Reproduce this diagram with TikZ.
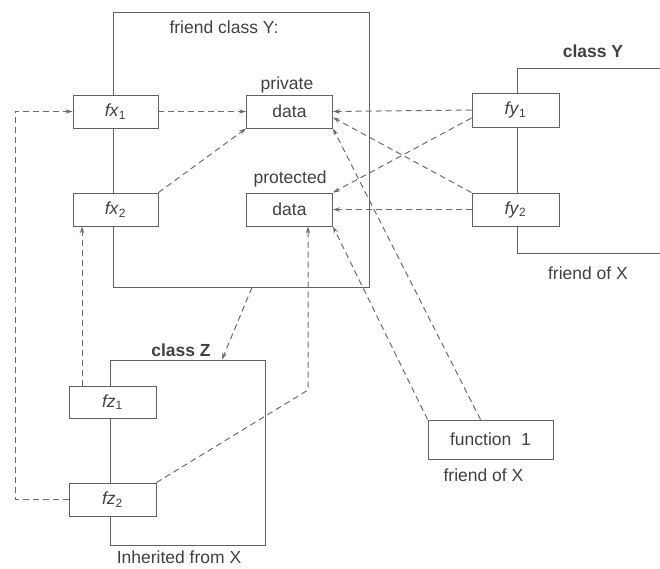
\documentclass[tikz,border=0pt]{standalone}
\usepackage{fontspec}
\setmainfont{Liberation Sans}
\usetikzlibrary{arrows.meta,calc}
\newcommand{\sbs}[1]{\textsubscript{\fontsize{12}{14}\selectfont #1}}
\begin{document}
\begin{tikzpicture}[x=1pt,y=-1pt,
  line/.style={draw=black!62, line width=0.9pt},
  fbox/.style={line, fill=white, rectangle, minimum width=86pt, minimum height=33pt, inner sep=0pt, text=black!75, font=\fontsize{17.5}{20}\selectfont},
  lbl/.style={text=black!75, font=\fontsize{17.5}{20}\selectfont, inner sep=0pt},
  blbl/.style={text=black!75, font=\fontsize{17.5}{20}\selectfont\bfseries, inner sep=0pt},
  dep/.style={draw=black!58, line width=1pt, dash pattern=on 6pt off 4pt, -{Stealth[length=7pt,width=4.5pt]}},
  framebox/.style={line, rectangle, inner sep=0pt}
]
\useasboundingbox (0,0) rectangle (660,568);

% frames
\node[framebox, minimum width=256pt, minimum height=275pt] (frameX) at (241,149.5) {};
\node[framebox, minimum width=155pt, minimum height=185pt] (frameZ) at (187.5,452.5) {};
\coordinate (yTR) at (660,68);
\coordinate (yTL) at (517,68);
\coordinate (yBL) at (517,253);
\coordinate (yBR) at (660,253);
\draw[line] (yTR) -- (yTL) -- (yBL) -- (yBR);

% boxes
\node[fbox, minimum width=85pt] (fx1) at (115.5,111.5) {\textit{fx}\sbs{1}};
\node[fbox, minimum width=85pt] (fx2) at (115.5,209.5) {\textit{fx}\sbs{2}};
\node[fbox] (pd) at (289.5,111.5) {data};
\node[fbox] (prd) at (289.5,209.5) {data};
\node[fbox, minimum width=87pt, minimum height=34pt] (fy1) at (515.5,110) {\textit{fy}\sbs{1}};
\node[fbox, minimum width=87pt] (fy2) at (515.5,209.5) {\textit{fy}\sbs{2}};
\node[fbox, minimum width=87pt, minimum height=32pt] (fz1) at (112.5,402) {\textit{fz}\sbs{1}};
\node[fbox, minimum width=87pt] (fz2) at (112.5,499.5) {\textit{fz}\sbs{2}};
\node[fbox, minimum width=125pt, minimum height=39pt] (f1) at (490.5,439.5) {function\ \ 1};

% labels
\node[lbl] (lX) at (224,27) {friend class Y:};
\node[lbl] (lpriv) at (287,85) {private};
\node[lbl] (lprot) at (290,179) {protected};
\node[blbl] (lY) at (593,51) {class Y};
\node[lbl] (lYf) at (588,273) {friend of X};
\node[blbl] (lZ) at (181,350) {class Z};
\node[lbl] (lZi) at (179,557) {Inherited from X};
\node[lbl] (lf1) at (483.5,475) {friend of X};

% dependencies
\draw[dep] (fx1.east) -- (pd.west);
\draw[dep] (fx2.north east) -- (pd.south west);
\draw[dep] (fy1.west) -- (pd.east);
\draw[dep] (fy2.north west) -- ([yshift=-6pt]pd.east);
\draw[dep] ([yshift=-8pt]fy1.west) -- (prd.north east);
\draw[dep] (fy2.west) -- (prd.east);
\draw[dep] ([xshift=-10pt]f1.north) -- (pd.south east);
\draw[dep] (f1.north west) -- (prd.south east);
\draw[dep] ([xshift=11pt]frameX.south) -- ([xshift=34.5pt]frameZ.north);
\draw[dep] ([xshift=-30.5pt]fz1.north) -- ([xshift=-33.5pt]fx2.south);
\coordinate (k1) at (308,390);
\draw[dep] (fz2.north east) -- (k1) -- (k1 |- prd.south);
\coordinate (k2) at (15,300);
\draw[dep] (fz2.west) -| (k2) |- (fx1.west);
\end{tikzpicture}
\end{document}
